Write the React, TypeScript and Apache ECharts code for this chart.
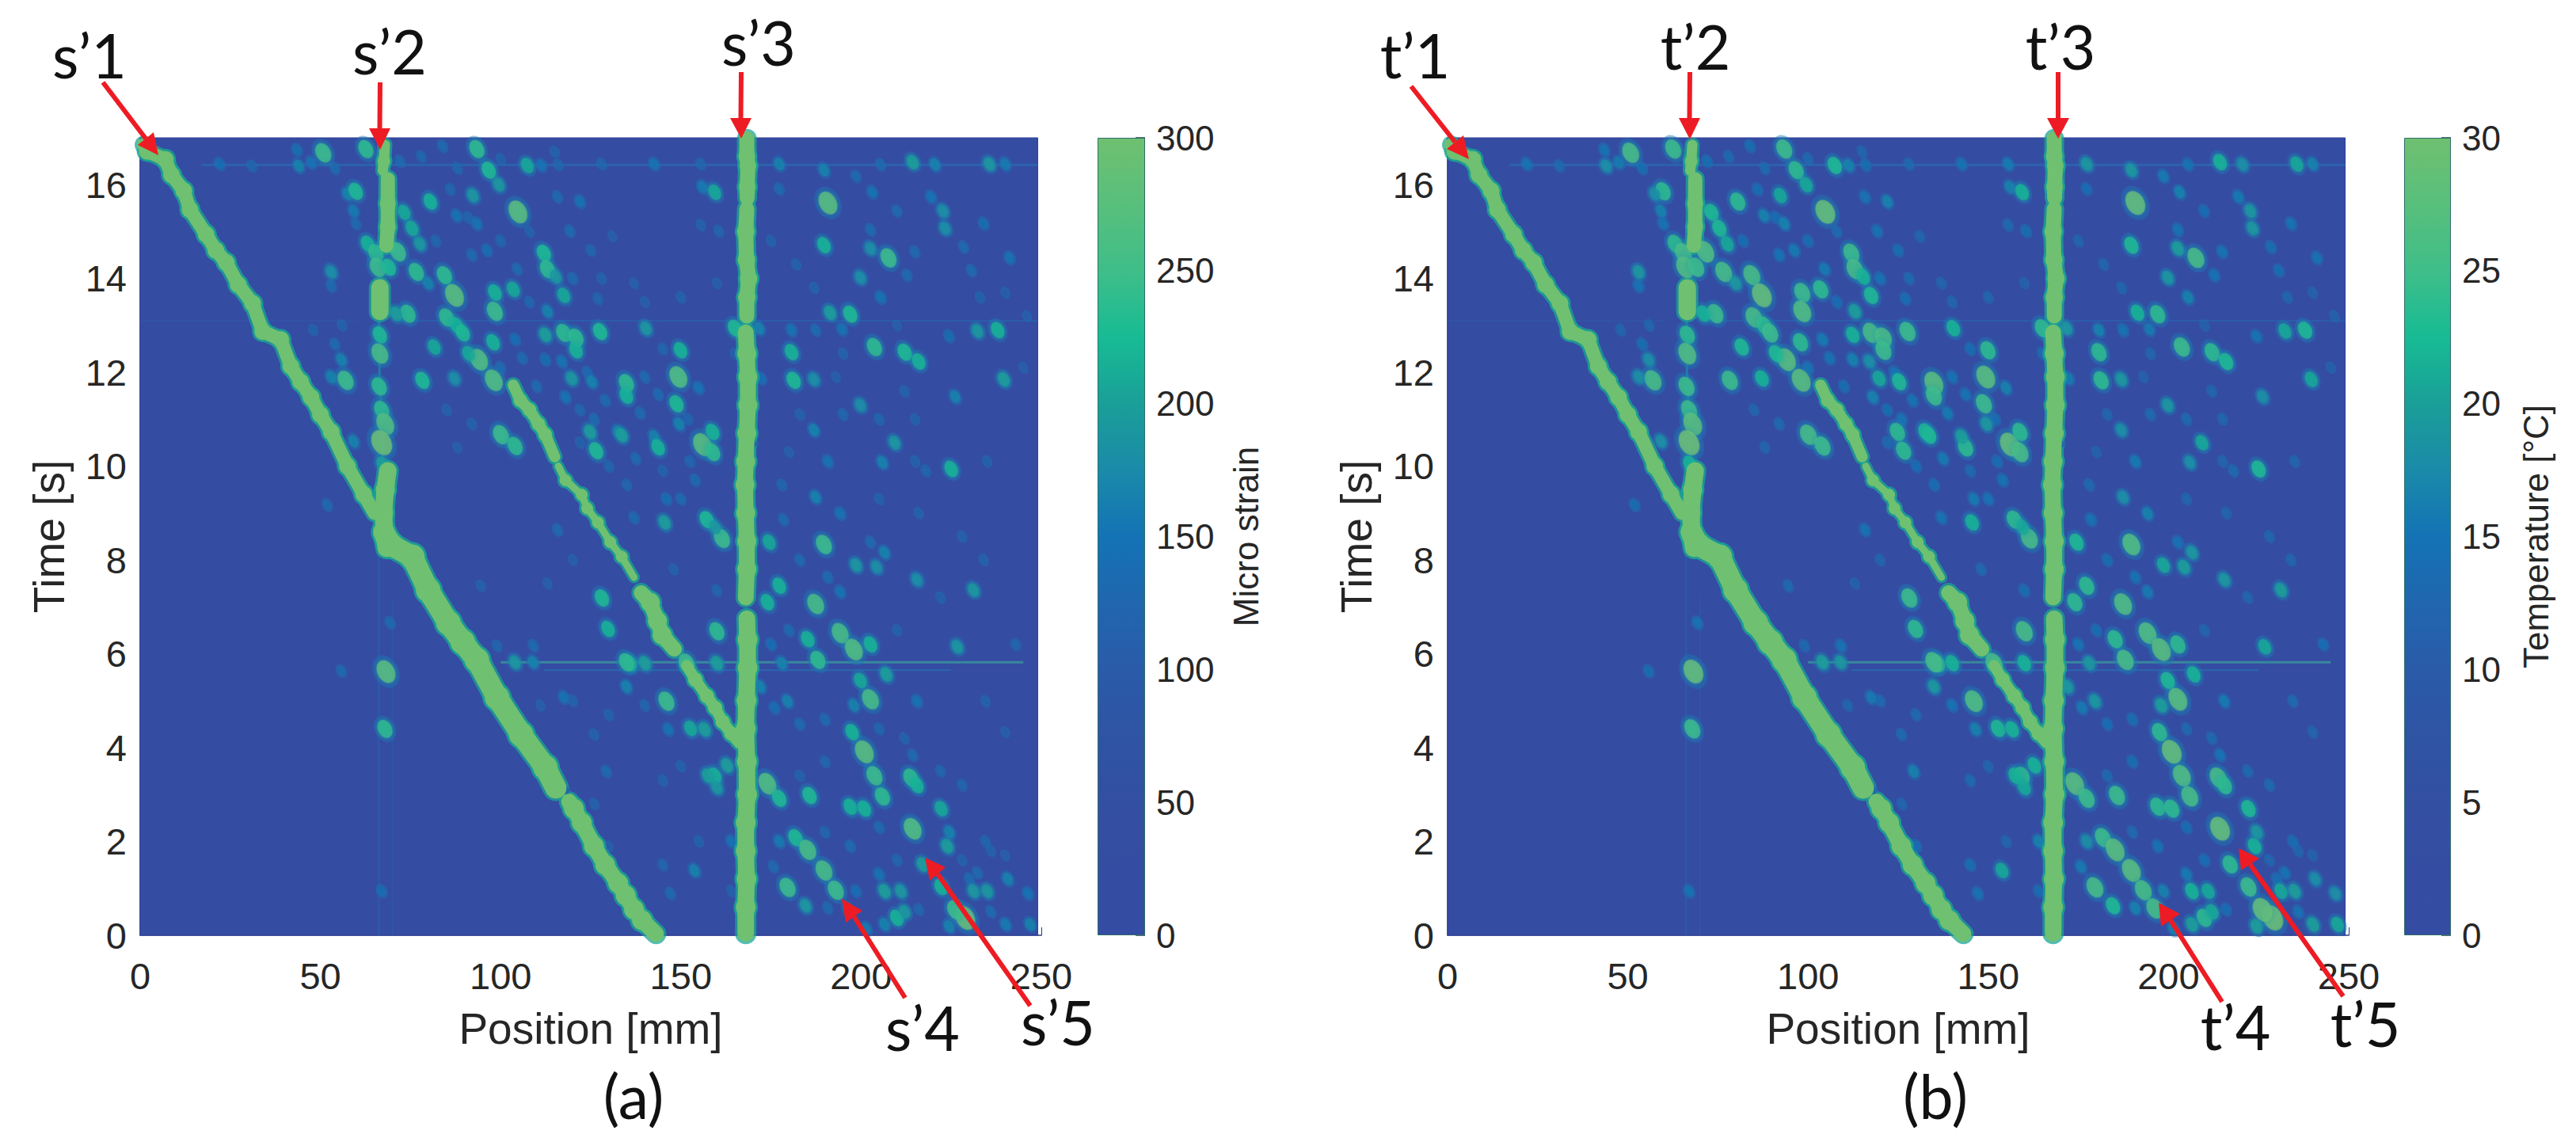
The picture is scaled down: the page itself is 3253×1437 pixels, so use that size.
import React, { useEffect, useRef } from "react";
import * as echarts from "echarts";

const positionTicks = [0, 50, 100, 150, 200, 250];
const strainRange = [0, 300];
const temperatureRange = [0, 30];
const colourRamp = ["#354ca3", "#344da2", "#334fa2", "#2f54a4", "#2a5ba9", "#2066af", "#1473b5", "#1a8aa9", "#1a9f98", "#17bb94", "#3fbe89", "#58bf7c", "#6fc070"];

// saturated tracks: [position mm, time s]
const mainTrackUpper = [[1, 16.85], [2, 16.71], [7, 16.54], [8.7, 16.21], [12.1, 15.87], [13.8, 15.47], [18.3, 14.94], [21, 14.6], [23.9, 14.34], [27.2, 13.87], [31.2, 13.47], [34, 12.87], [39, 12.7], [41.8, 12.13], [44.5, 11.8], [47.4, 11.47], [50, 11.1], [53, 10.73], [57.5, 10], [62, 9.4], [65, 9]];
const mainTrackMiddle = [[67.6, 8.6], [69.3, 8.33], [75.5, 8.07], [79.9, 7.36], [85.5, 6.66], [89.5, 6.25], [93.4, 5.87], [99, 5.07], [105.7, 4.28], [112.4, 3.58], [115.3, 3.14]];
const mainTrackLower = [[119, 2.85], [120.3, 2.7], [122.5, 2.4], [125.9, 1.9], [129, 1.5], [132.6, 1.11], [134.7, 0.85], [137, 0.55], [139.2, 0.32], [143.1, 0.03]];
const secondTrackUpper = [[103.5, 11.73], [105.5, 11.4], [108, 11.2], [110.5, 10.9], [112.4, 10.67], [115, 10.2]];
const secondTrackLower = [[116, 10], [118, 9.7], [122.5, 9.39], [124, 9.1], [127, 8.8], [130.4, 8.38], [133.6, 8.07], [137, 7.63]];
const secondTrackWide = [[139, 7.3], [141.5, 7.1], [143.5, 6.7], [144.8, 6.4], [148.2, 6.1]];
const secondTrackEnd = [[151.6, 5.75], [154, 5.45], [157.2, 5.1], [159.5, 4.85], [161.6, 4.55], [164, 4.3], [166.1, 4.1]];
const gaugeThreeTop = [[168.3, 16.98], [168.3, 16.6], [168.6, 16.4], [168.4, 15.95], [168.4, 15.72]];
const gaugeThreeUpper = [[168.3, 15.48], [168, 15], [168.2, 14.4], [168.8, 14], [168.3, 13.6], [168.3, 13.2]];
const gaugeThreeMiddle = [[168, 12.85], [168.3, 12.4], [168.6, 11.9], [168.6, 11.3], [168.3, 10.7], [168, 10.1], [167.8, 9.6], [168, 9], [168.3, 8.4], [168.3, 7.8], [168, 7.2]];
const gaugeThreeLower = [[168.3, 6.75], [168.5, 6.3], [168.5, 5.7], [168.2, 5], [168, 4.4], [168.3, 3.7], [168.4, 3], [168, 2.4], [168, 1.8], [168.2, 1.2], [168, 0.6], [168, 0.04]];
const gaugeTwoTop = [[67.9, 16.85], [67.6, 16.5], [67.3, 16.3]];
const gaugeTwoUpper = [[68.7, 16.12], [68.7, 15.6], [68.7, 15.1], [68.3, 14.7]];
const gaugeTwoBlob = [[66.5, 13.8], [66.5, 13.3]];
const gaugeTwoLower = [[68.7, 9.9], [68, 9.5], [67.5, 9], [67.8, 8.5], [68.3, 8.25]];
const gaugeTwoThin = [[66.3, 13.3], [66.4, 12], [67.4, 10]];
const faintLeftGauge = [[66.2, 8.2], [66.2, 0]];
const faintRightGauge = [[70, 7.2], [70, 0]];
const streakSixteen = [[17, 16.42], [249, 16.42]];
const streakThirteen = [[0, 13.1], [60, 13.1]];
const streakThirteenRight = [[70, 13.1], [249, 13.1]];
const streakFiveEight = [[100, 5.82], [245, 5.82]];
const streakFiveSix = [[112, 5.65], [225, 5.65]];

// isolated spots: [position mm, time s, micro strain, temperature °C]
const upperLeftSpots = [
  [50.8, 16.68, 250, 26], [62.6, 16.76, 240, 25], [43.5, 16.74, 140, 15], [93.4, 16.76, 240, 25], [83.9, 16.82, 130, 14], [96.7, 16.31, 230, 24], [99.5, 16, 190, 21], [107.4, 16.41, 210, 23], [111.3, 16.41, 150, 17], [59.8, 15.86, 230, 24],
  [57.5, 15.8, 170, 18], [59.2, 15.44, 160, 17], [59.8, 15.17, 130, 15], [80.5, 15.64, 220, 24], [92.3, 15.77, 190, 21], [104.8, 15.42, 280, 29], [93.4, 15.17, 150, 17], [87.8, 15.34, 150, 17], [122, 15.64, 150, 17], [115.8, 15.74, 130, 15],
  [119.2, 15.01, 130, 15], [73.2, 15.41, 210, 23], [75.4, 15.07, 210, 23], [77.6, 14.74, 190, 21], [63.1, 14.74, 220, 24], [65.4, 14.54, 240, 26], [71.5, 14.57, 250, 27], [53, 14.14, 180, 19], [53, 13.84, 130, 15], [65.9, 14.24, 250, 27],
  [69, 14.24, 230, 25], [76.6, 14.14, 240, 26], [84.4, 14.07, 240, 26], [79.9, 13.9, 170, 19], [87.2, 13.64, 280, 29], [96.2, 14.6, 140, 16], [104.6, 14.2, 130, 16], [112, 14.54, 230, 25], [113, 14.2, 240, 26], [115.3, 14.04, 190, 22],
  [98.4, 13.7, 220, 25], [103.5, 13.77, 210, 24], [98.4, 13.3, 250, 27], [117.5, 13.64, 210, 23], [113, 13.3, 170, 20], [127, 13.57, 120, 14], [74.3, 13.25, 240, 25], [71, 13.25, 200, 22], [85, 13.17, 240, 26], [87.8, 13, 220, 24],
  [89.5, 12.84, 230, 25], [81.6, 12.54, 210, 23], [97.9, 12.64, 220, 24], [94, 12.27, 270, 28], [91.1, 12.4, 210, 23], [112.4, 12.8, 200, 22], [117.5, 12.84, 240, 26], [120.9, 12.74, 240, 26], [120.9, 12.47, 220, 25], [127.6, 12.87, 230, 25],
  [112.4, 12.27, 140, 17], [117, 12.23, 150, 18], [55.8, 12.27, 170, 18], [57, 11.83, 250, 26], [53, 11.9, 170, 18], [78.3, 11.83, 230, 25], [87.2, 11.87, 180, 22], [98.1, 11.83, 270, 28], [119.7, 11.87, 190, 21], [125.3, 11.8, 170, 23],
  [134.9, 11.77, 240, 28], [134.9, 11.5, 220, 25], [118, 11.47, 150, 17], [100.1, 10.67, 250, 26], [104, 10.43, 240, 25], [124.8, 10.73, 200, 24], [132.6, 10.73, 170, 23], [126.5, 10.33, 230, 24], [59.2, 10.53, 170, 18], [66.5, 12.8, 230, 24],
  [66.5, 12.4, 260, 27], [66.3, 11.7, 240, 25], [67, 11.2, 240, 25], [68, 10.9, 270, 28], [67, 10.5, 300, 30], [67.2, 10.05, 200, 22]
];
const upperRightSpots = [
  [142.6, 16.44, 150, 15], [155.5, 16.44, 120, 16], [177.3, 16.44, 170, 19], [214.3, 16.48, 200, 22], [220.5, 16.43, 170, 18], [235.6, 16.44, 190, 21], [240, 16.44, 160, 17], [205.4, 16.43, 130, 15], [159.4, 15.84, 210, 22], [156, 15.95, 160, 17],
  [189.7, 16.31, 170, 19], [198.6, 16.18, 130, 16], [203.1, 15.84, 150, 17], [177.3, 15.91, 130, 14], [190.8, 15.61, 280, 29], [219.4, 15.74, 150, 16], [222.7, 15.44, 180, 19], [209.9, 15.44, 130, 14], [223.3, 15.07, 180, 19], [234, 15.17, 140, 15],
  [155.5, 15.14, 110, 13], [160.5, 15.01, 120, 14], [202.6, 15.04, 130, 15], [189.7, 14.71, 220, 23], [202.6, 14.64, 180, 20], [207.6, 14.44, 250, 26], [214.9, 14.57, 130, 15], [241.2, 14.44, 150, 15], [228.4, 14.67, 130, 14], [199.8, 14.02, 180, 19],
  [212.7, 14.07, 130, 15], [230.6, 14.17, 130, 14], [205.4, 13.6, 150, 17], [197, 13.24, 230, 24], [191.4, 13.27, 200, 22], [165, 12.94, 230, 24], [171.7, 12.94, 170, 19], [180.7, 12.9, 150, 17], [187.4, 12.9, 130, 15], [194.7, 12.92, 150, 16],
  [232.3, 12.88, 190, 21], [237.9, 12.9, 220, 23], [224.4, 12.77, 140, 15], [140.3, 12.94, 190, 22], [149.9, 12.47, 220, 24], [180.7, 12.43, 220, 24], [203.7, 12.54, 240, 25], [212.1, 12.43, 230, 24], [216, 12.23, 220, 23], [165, 12.4, 110, 13],
  [149.3, 11.9, 270, 28], [172.3, 11.87, 140, 16], [181.3, 11.83, 230, 24], [186.9, 11.85, 180, 19], [239.6, 11.85, 200, 21], [148.8, 11.33, 230, 25], [154.9, 11.67, 150, 17], [143.7, 11.53, 130, 15], [199.8, 11.3, 180, 19], [226.1, 11.48, 170, 18],
  [195, 11.1, 120, 13], [186.9, 10.77, 170, 18], [156, 10.46, 280, 29], [158.8, 10.73, 220, 24], [158.8, 10.3, 240, 26], [143.7, 10.4, 220, 24], [142.6, 10.63, 170, 20], [209.3, 10.5, 190, 21], [190.8, 10.1, 150, 16], [205.9, 10.08, 170, 18],
  [225, 9.94, 220, 23], [138.7, 11.13, 130, 16], [133.6, 10.66, 200, 23], [137.5, 10.16, 130, 16], [149.5, 10.9, 170, 19], [152.5, 10.1, 120, 14], [145, 9.9, 110, 13], [218, 9.9, 120, 13], [180, 10.3, 100, 11], [215, 11, 110, 12]
];
const lowerRightSpots = [
  [157.2, 8.86, 230, 24], [161.4, 8.46, 250, 26], [159.5, 8.7, 190, 21], [174.5, 8.38, 210, 23], [189.7, 8.33, 250, 27], [198.6, 7.89, 190, 21], [204.3, 7.85, 180, 20], [206.5, 8.16, 170, 19], [202.6, 8.38, 130, 15], [178.5, 8.86, 130, 15],
  [194.2, 8.99, 150, 17], [187.4, 9.34, 170, 18], [215.5, 7.58, 180, 19], [231.2, 7.36, 190, 20], [177.3, 7.45, 220, 24], [190.8, 7.63, 130, 15], [194.2, 7.32, 150, 16], [187.4, 7.06, 260, 27], [174, 7.1, 220, 24], [160, 7.35, 120, 14],
  [160, 6.48, 240, 26], [185.2, 6.31, 220, 24], [194.2, 6.44, 260, 27], [198, 6.09, 270, 28], [202.6, 6.2, 220, 24], [188, 5.87, 240, 26], [226.7, 6.15, 190, 21], [242.9, 6.2, 120, 14], [135.9, 5.8, 220, 24], [140, 5.8, 200, 22],
  [151.6, 5.8, 250, 26], [160, 5.8, 200, 22], [178, 5.8, 170, 19], [199.8, 5.43, 210, 23], [207, 5.56, 200, 22], [202.6, 5.03, 260, 28], [198, 4.9, 170, 20], [146, 4.99, 250, 27], [179.6, 4.99, 170, 19], [176, 4.85, 140, 16],
  [215.5, 4.99, 150, 16], [234.5, 4.99, 110, 13], [152.7, 4.41, 210, 23], [156.6, 4.39, 200, 22], [146.5, 4.39, 150, 17], [197.5, 4.33, 220, 24], [240, 4.33, 100, 12], [200.9, 3.91, 280, 29], [214.3, 3.84, 130, 15], [203.7, 3.4, 250, 27],
  [205.9, 2.96, 240, 26], [213.8, 3.36, 240, 26], [215.5, 3.2, 220, 24], [159.4, 3.4, 220, 24], [157.5, 3.4, 200, 22], [162.8, 3.62, 200, 22], [160, 3.15, 190, 21], [174, 3.23, 270, 28], [177.3, 2.92, 230, 25], [185.7, 2.98, 230, 25],
  [197, 2.74, 220, 24], [200.9, 2.7, 220, 24], [222.2, 2.7, 210, 23], [214.3, 2.27, 270, 29], [181.8, 2.08, 230, 25], [185.2, 1.82, 260, 28], [189.7, 1.38, 260, 28], [164, 2, 150, 17], [223.9, 1.9, 200, 22], [224.5, 2.2, 170, 19],
  [217.1, 1.51, 200, 24], [179.6, 1.02, 250, 26], [184.6, 0.63, 190, 23], [193, 0.96, 250, 26], [198.6, 0.94, 140, 17], [206.5, 0.94, 200, 22], [211, 0.94, 190, 21], [222.2, 1.03, 220, 25], [231.2, 0.94, 190, 21], [235, 0.94, 190, 20],
  [240.7, 1.2, 170, 18], [246.3, 0.89, 150, 18], [228.9, 0.37, 290, 30], [226.1, 0.54, 250, 29], [209.9, 0.37, 220, 24], [206.5, 0.23, 170, 20], [212.1, 0.5, 190, 21], [224.4, 0.19, 170, 20], [240.1, 0.23, 160, 20], [246.9, 0.23, 170, 21],
  [201.4, 0.14, 160, 17], [190.8, 0.58, 130, 17], [196.2, 0.57, 160, 26], [153.8, 1.38, 170, 21], [147.1, 0.89, 130, 15], [164, 0.94, 110, 14], [232.3, 1.33, 130, 15], [234.5, 2, 120, 14], [177.3, 2, 160, 18], [175.7, 1.46, 130, 16]
];
const middleSpots = [
  [68.2, 5.62, 280, 29], [67.9, 4.4, 240, 25], [67, 0.94, 140, 15], [69.3, 6.66, 130, 15], [55.8, 5.63, 130, 14], [51.9, 9.17, 130, 14], [128.1, 7.19, 230, 25], [129.8, 6.53, 220, 24], [109.1, 6.17, 130, 15], [99, 6.17, 120, 13],
  [117.5, 5.07, 150, 16], [129.3, 3.49, 130, 17], [134.9, 5.82, 240, 26], [134.9, 5.3, 170, 19], [115.8, 8.64, 130, 15], [94.5, 7.45, 110, 13], [125.9, 4.28, 110, 13], [104, 5.82, 190, 20], [109, 5.82, 170, 19], [120, 8, 100, 12],
  [111, 4.9, 100, 12], [126, 2.8, 110, 12], [145.5, 8.8, 200, 22], [137, 8.9, 130, 15], [150, 9.3, 130, 15], [148, 7.8, 110, 13], [140, 4.9, 120, 15], [130, 1.9, 100, 14], [145, 1.5, 120, 14], [113, 7.5, 100, 11]
];
const faintUpperSpots = [
  [22, 16.44, 140, 15], [31, 16.4, 120, 13], [44, 16.4, 170, 18], [47.5, 16.47, 150, 16], [54, 16.35, 130, 14], [72, 16.5, 130, 14], [78, 16.6, 120, 13], [88, 16.35, 120, 13], [100, 16.55, 110, 13], [115, 16.7, 110, 12], [128, 16.44, 120, 13], [116, 16.42, 120, 14],
  [86, 15.9, 120, 14], [91, 15.3, 120, 14], [100, 14.8, 120, 14], [108, 15, 110, 13], [125, 14.6, 120, 14], [128, 14, 110, 13], [137, 13.9, 100, 12], [131, 14.9, 100, 12], [120, 14, 130, 15], [108, 13.5, 120, 14], [92, 14.5, 130, 15], [82, 14.8, 120, 14], [48, 12.9, 110, 12], [54, 12.6, 130, 14], [56, 13, 110, 12],
  [100, 12.1, 130, 15], [106, 12.3, 130, 15], [104, 12.7, 140, 16], [124, 12, 130, 15], [129, 11.4, 130, 15], [122, 11.2, 120, 14], [126, 11, 130, 15], [110, 11.7, 130, 14], [85, 11.2, 110, 12], [92, 10.9, 110, 13], [88, 10.4, 100, 12], [130, 10, 120, 14], [135, 9.6, 120, 14], [122, 10.5, 110, 13], [140, 11.9, 130, 15], [145, 12.5, 120, 14], [152, 11, 120, 14], [154, 9.7, 130, 15], [146, 9.3, 140, 16],
  [140, 13.5, 100, 12], [150, 13.6, 110, 12], [160, 13.9, 100, 11], [175, 14.8, 110, 12], [182, 14.3, 110, 12], [187, 13.8, 110, 12], [210, 13, 100, 11], [195, 12.4, 110, 12], [183, 11.1, 110, 12], [193, 11.9, 100, 11], [205, 11, 120, 13], [212, 11.6, 110, 12], [233, 13.6, 110, 12], [240, 13.7, 100, 11], [246, 13.2, 100, 11], [245, 12.1, 100, 11], [215, 10.1, 110, 12], [235, 10.1, 110, 12], [170, 10.5, 110, 12], [178, 9.6, 120, 13]
];
const faintLowerSpots = [
  [205, 9.3, 110, 12], [216, 9, 110, 12], [228, 8.5, 110, 12], [234, 8, 110, 12], [222, 7.2, 110, 12], [183, 8, 130, 14], [210, 6.5, 110, 12], [180, 6.5, 130, 14], [175, 6.2, 140, 15], [172, 5.3, 170, 19], [183, 4.5, 130, 14], [190, 4.6, 130, 14], [205, 4.4, 120, 13], [212, 4.2, 110, 13], [222, 3.5, 120, 13], [228, 3.2, 120, 13], [190, 3.7, 120, 14], [183, 3.4, 110, 13], [190, 2.2, 120, 13], [197, 1.9, 130, 15], [205, 2.3, 130, 14], [210, 1.6, 120, 14], [205, 1.3, 150, 16], [236, 1.8, 110, 12], [228, 1.6, 110, 12], [240, 1.7, 100, 11], [216, 0.55, 120, 14], [236, 0.5, 130, 15], [230, 1.2, 130, 14],
  [130, 4.7, 110, 13], [120, 5, 110, 13], [118, 3.1, 110, 12], [128, 1.5, 100, 12], [145, 3.3, 110, 13], [150, 3.6, 110, 12], [155, 2, 110, 12]
];

const arrows = [
  { from: [130, 104], tip: [200, 196], a: [194, 167], b: [174, 183] },
  { from: [480, 104], tip: [480, 189], a: [466, 162], b: [493, 162] },
  { from: [936, 91], tip: [936, 175], a: [922, 149], b: [949, 149] },
  { from: [1143, 1260], tip: [1063, 1135], a: [1089, 1150], b: [1068, 1165] },
  { from: [1301, 1270], tip: [1168, 1083], a: [1194, 1095], b: [1174, 1112] },
  { from: [1782, 109], tip: [1855, 201], a: [1848, 171], b: [1827, 188] },
  { from: [2134, 91], tip: [2134, 176], a: [2120, 149], b: [2147, 149] },
  { from: [2599, 91], tip: [2599, 175], a: [2585, 149], b: [2613, 149] },
  { from: [2806, 1265], tip: [2726, 1140], a: [2753, 1154], b: [2729, 1170] },
  { from: [2959, 1258], tip: [2827, 1071], a: [2853, 1084], b: [2830, 1099] }
];
const callouts: [string, number, number][] = [
  ["s’1", 113, 69], ["s’2", 492, 64], ["s’3", 958, 53], ["s’4", 1165, 1297], ["s’5", 1336, 1290], ["(a)", 800, 1383],
  ["t’1", 1787, 69], ["t’2", 2141, 58], ["t’3", 2602, 58], ["t’4", 2823, 1296], ["t’5", 2987, 1292], ["(b)", 2444, 1383]
];

const allSpots = [...faintUpperSpots, ...faintLowerSpots, ...upperLeftSpots, ...upperRightSpots, ...lowerRightSpots, ...middleSpots];
const SANS = "'Liberation Sans', Arial, sans-serif";
const TOP = 174, BOTTOM_PLOT = 1007;
const INK = "#262626";
const SATURATED = "#6fc070";

function trackSeries(ax: number, data: number[][], width: number, bump: number) {
  const base = { type: "line", xAxisIndex: ax, yAxisIndex: ax, data, silent: true, smooth: false, symbol: "circle", showSymbol: true, showAllSymbol: true };
  const sized = (size: number) => (_v: number[], p: any) => (p.dataIndex === 0 || p.dataIndex === data.length - 1 ? 0 : size);
  return [
    { ...base, z: 3, symbolSize: sized(bump + 6), lineStyle: { color: "#1aa594", width: width + 6, opacity: 0.75, join: "round", cap: "round" }, itemStyle: { color: "#1aa594", opacity: 0.75 } },
    { ...base, z: 4, symbolSize: sized(bump), lineStyle: { color: SATURATED, width, join: "round", cap: "round" }, itemStyle: { color: SATURATED } }
  ];
}
function thinSeries(ax: number, data: number[][], color: string, width: number) {
  return { type: "line", xAxisIndex: ax, yAxisIndex: ax, data, z: 2, silent: true, showSymbol: false, symbol: "none", lineStyle: { color, width, opacity: 0.7 } };
}

function buildOption() {
  const series: any[] = [];
  const visualMap: any[] = [];
  const panels = [
    { ax: 0, range: strainRange, col: 2 },
    { ax: 1, range: temperatureRange, col: 3 }
  ];
  panels.forEach(({ ax, range, col }) => {
    series.push({
      type: "line", xAxisIndex: ax, yAxisIndex: ax, data: [], z: 1, silent: true,
      markArea: { silent: true, itemStyle: { color: "#354ca3", borderColor: "#2c3c95", borderWidth: 1 }, data: [[{ coord: [0, 0] }, { coord: [249, 17] }]] }
    });
    series.push(thinSeries(ax, faintLeftGauge, "#2b62ab", 2));
    series.push(thinSeries(ax, faintRightGauge, "#2f58a8", 2));
    series.push(thinSeries(ax, streakSixteen, "#2a6cb0", 3));
    series.push(thinSeries(ax, streakThirteen, "#3155a6", 2));
    series.push(thinSeries(ax, streakThirteenRight, "#2a62ac", 2));
    series.push(thinSeries(ax, streakFiveEight, "#3aa39a", 3));
    series.push(thinSeries(ax, streakFiveSix, "#2673b0", 2));
    series.push(thinSeries(ax, gaugeTwoThin, "#1f8fa8", 3));
    const max = range[1];
    const data = allSpots.map((r) => [r[0], r[1], r[col]]);
    const sizeOf = (v: number[]) => {
      const level = v[2] / max;
      return 6 + 18 * level * level;
    };
    const bright = data.filter((d) => d[2] / max >= 0.6);
    const dim = data.filter((d) => d[2] / max < 0.6);
    series.push({
      type: "scatter", xAxisIndex: ax, yAxisIndex: ax, z: 2, silent: true, data,
      symbol: "circle", symbolRotate: 28,
      symbolSize: (v: number[]) => { const w = sizeOf(v) * 1.45; return [w, w * 1.4]; },
      itemStyle: { color: "#1f74b3", opacity: 0.42 }
    });
    const dimIndex = series.length;
    series.push({
      type: "scatter", xAxisIndex: ax, yAxisIndex: ax, z: 3, silent: true, data: dim,
      symbol: "circle", symbolRotate: 28,
      symbolSize: (v: number[]) => { const w = sizeOf(v); return [w, w * 1.4]; },
      itemStyle: { shadowBlur: 5, shadowColor: "rgba(35,100,170,0.8)" }
    });
    const brightIndex = series.length;
    series.push({
      type: "scatter", xAxisIndex: ax, yAxisIndex: ax, z: 3, silent: true, data: bright,
      symbol: "circle", symbolRotate: 28,
      symbolSize: (v: number[]) => { const w = sizeOf(v); return [w, w * 1.4]; },
      itemStyle: { shadowBlur: 7, shadowColor: "rgba(26,150,165,0.9)" }
    });
    visualMap.push({ show: false, type: "continuous", min: range[0], max, dimension: 2, seriesIndex: [dimIndex, brightIndex], inRange: { color: colourRamp } });
    series.push(...trackSeries(ax, mainTrackUpper, 17, 21));
    series.push(...trackSeries(ax, mainTrackMiddle, 27, 31));
    series.push(...trackSeries(ax, mainTrackLower, 20, 25));
    series.push(...trackSeries(ax, secondTrackUpper, 14, 17));
    series.push(...trackSeries(ax, secondTrackLower, 9, 15));
    series.push(...trackSeries(ax, secondTrackWide, 19, 24));
    series.push(...trackSeries(ax, secondTrackEnd, 14, 18));
    series.push(...trackSeries(ax, gaugeThreeTop, 19, 21));
    series.push(...trackSeries(ax, gaugeThreeUpper, 19, 22));
    series.push(...trackSeries(ax, gaugeThreeMiddle, 20, 24));
    series.push(...trackSeries(ax, gaugeThreeLower, 21, 25));
    series.push(...trackSeries(ax, gaugeTwoTop, 13, 16));
    series.push(...trackSeries(ax, gaugeTwoUpper, 18, 20));
    series.push(...trackSeries(ax, gaugeTwoBlob, 22, 24));
    series.push(...trackSeries(ax, gaugeTwoLower, 22, 24));
    series.push({
      type: "bar", xAxisIndex: ax + 2, yAxisIndex: ax + 2, data: [max], barWidth: "100%", silent: true,
      itemStyle: {
        borderColor: "#2f6d6a", borderWidth: 1,
        color: {
          type: "linear", x: 0, y: 1, x2: 0, y2: 0,
          colorStops: colourRamp.map((c, i) => ({ offset: i / (colourRamp.length - 1), color: c }))
        }
      }
    });
  });

  const plotAxisLabel = { fontFamily: SANS, fontSize: 47, color: INK };
  const xAxis = (gridIndex: number) => ({
    type: "value", gridIndex, min: 0, max: positionTicks[positionTicks.length - 1], interval: 50,
    name: "Position [mm]", nameLocation: "middle", nameGap: 90, nameTextStyle: { fontFamily: SANS, fontSize: 55, color: INK },
    axisLine: { show: true, lineStyle: { color: "#2c3c80", width: 1.5 } },
    axisTick: { show: true, inside: true, length: 10, lineStyle: { color: "#2c3c80" } },
    axisLabel: { ...plotAxisLabel, margin: 30, lineHeight: 42 },
    splitLine: { show: false }
  });
  const yAxis = (gridIndex: number) => ({
    type: "value", gridIndex, min: 0, max: 17, interval: 2,
    name: "Time [s]", nameLocation: "middle", nameGap: 88, nameTextStyle: { fontFamily: SANS, fontSize: 55, color: INK },
    axisLine: { show: true, lineStyle: { color: "#2c3c95", width: 1.5 } },
    axisTick: { show: false },
    axisLabel: { ...plotAxisLabel, margin: 17, showMaxLabel: false },
    splitLine: { show: false }
  });
  const barX = (gridIndex: number) => ({ type: "category", gridIndex, data: [""], show: false });
  const barY = (gridIndex: number, range: number[], interval: number, name: string, gap: number) => ({
    type: "value", gridIndex, position: "right", min: range[0], max: range[1], interval,
    name, nameLocation: "middle", nameGap: gap, nameRotate: 90, nameTextStyle: { fontFamily: SANS, fontSize: 44, color: INK },
    axisLine: { show: false },
    axisTick: { show: true, inside: true, length: 12, lineStyle: { color: "#1f3f55", width: 1.5 } },
    axisLabel: { fontFamily: SANS, fontSize: 44, color: INK, margin: 14 },
    splitLine: { show: false }
  });

  const graphic: any[] = [];
  arrows.forEach((ar) => {
    const mid = [(ar.a[0] + ar.b[0]) / 2, (ar.a[1] + ar.b[1]) / 2];
    graphic.push({ type: "line", z: 100, shape: { x1: ar.from[0], y1: ar.from[1], x2: mid[0], y2: mid[1] }, style: { stroke: "#ed1c24", lineWidth: 6 } });
    graphic.push({ type: "polygon", z: 100, shape: { points: [ar.tip, ar.a, ar.b] }, style: { fill: "#ed1c24" } });
  });
  callouts.forEach(([text, x, y]) => {
    graphic.push({ type: "text", z: 100, x, y, style: { text, fontFamily: "Lato, 'Noto Sans', sans-serif", fontSize: 77, lineHeight: 54, fill: "#111111", align: "center", verticalAlign: "middle" } });
  });

  return {
    animation: false,
    backgroundColor: "#ffffff",
    grid: [
      { left: 177, top: TOP, width: 1138, height: BOTTOM_PLOT, containLabel: false },
      { left: 1828, top: TOP, width: 1138, height: BOTTOM_PLOT, containLabel: false },
      { left: 1386, top: TOP, width: 60, height: BOTTOM_PLOT, containLabel: false },
      { left: 3036, top: TOP, width: 59, height: BOTTOM_PLOT, containLabel: false }
    ],
    xAxis: [xAxis(0), xAxis(1), barX(2), barX(3)],
    yAxis: [yAxis(0), yAxis(1), barY(2, strainRange, 50, "Micro strain", 105), barY(3, temperatureRange, 5, "Temperature [°C]", 85)],
    visualMap,
    series,
    graphic
  };
}

export default function App() {
  const ref = useRef<HTMLDivElement>(null);
  useEffect(() => {
    document.body.style.margin = "0";
    const chart = echarts.init(ref.current as HTMLDivElement, undefined, { renderer: "svg" });
    chart.setOption(buildOption() as any);
    return () => chart.dispose();
  }, []);
  return <div ref={ref} style={{ width: 3253, height: 1437 }} />;
}
